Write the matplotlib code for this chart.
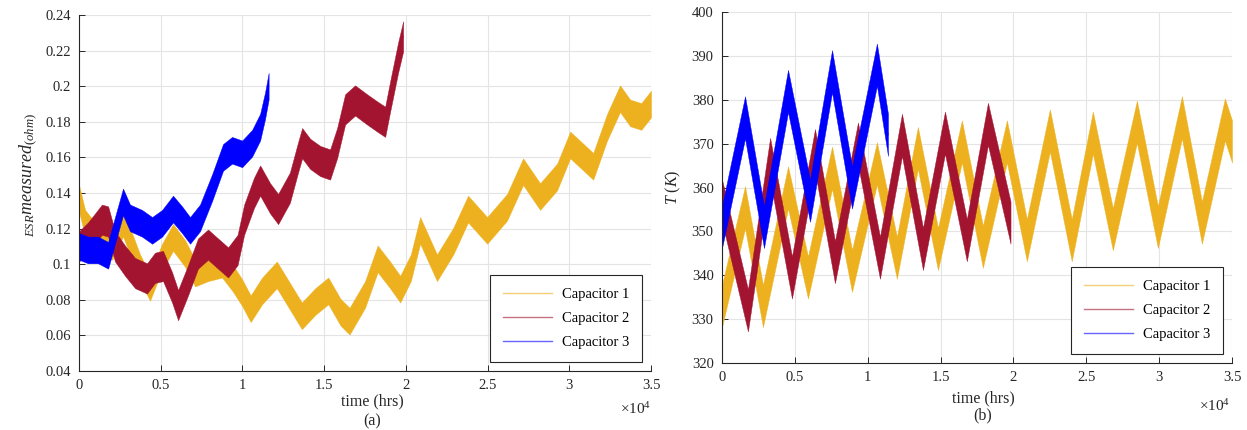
import numpy as np
import matplotlib
matplotlib.use('Agg')
import matplotlib.pyplot as plt
from matplotlib.ticker import FuncFormatter

plt.rcParams['font.family'] = ['Liberation Serif', 'DejaVu Serif']
plt.rcParams['mathtext.fontset'] = 'custom'
plt.rcParams['mathtext.rm'] = 'Liberation Serif'
plt.rcParams['mathtext.it'] = 'Liberation Serif:italic'

# ---- data (time in hours) ----
labels = ['Capacitor 1', 'Capacitor 2', 'Capacitor 3']

# (a) ESR, centre of the noisy band
esr1_t = [0, 370, 800, 1400, 2020, 2690, 3240, 3730, 4340, 5080, 5750, 6490, 7100, 7890,
          8750, 9420, 9980, 10500, 11200, 12100, 12900, 13630, 14450, 15250, 16000, 16550,
          17500, 18270, 19030, 19650, 20300, 20870, 21900, 22900, 23800, 24970, 26190,
          27170, 28210, 29250, 30050, 31460, 32310, 33100, 33720, 34400, 35000]
esr1_v = [0.137, 0.123, 0.118, 0.113, 0.110, 0.123, 0.110, 0.098, 0.087, 0.104, 0.115,
          0.106, 0.095, 0.098, 0.100, 0.092, 0.084, 0.075, 0.085, 0.094, 0.082, 0.071,
          0.079, 0.085, 0.073, 0.068, 0.083, 0.103, 0.094, 0.086, 0.098, 0.119, 0.098,
          0.113, 0.131, 0.119, 0.132, 0.152, 0.138, 0.149, 0.167, 0.155, 0.177, 0.193,
          0.185, 0.183, 0.190]
esr2_t = [0, 550, 1400, 1780, 2200, 2810, 3430, 4160, 4650, 5140, 5690, 6060, 6670, 7280,
          7890, 8500, 9120, 9700, 10100, 10700, 11080, 11690, 12180, 12900, 13400, 13650,
          14140, 14750, 15360, 15790, 16280, 16890, 17620, 18240, 18730, 19030, 19520, 19830]
esr2_v = [0.110, 0.115, 0.125, 0.124, 0.110, 0.102, 0.095, 0.092, 0.098, 0.099, 0.087,
          0.077, 0.091, 0.106, 0.111, 0.106, 0.101, 0.108, 0.125, 0.140, 0.147, 0.137,
          0.131, 0.143, 0.160, 0.168, 0.162, 0.158, 0.156, 0.168, 0.187, 0.192, 0.187,
          0.183, 0.180, 0.194, 0.216, 0.228]
esr3_t = [0, 550, 1160, 1780, 2200, 2690, 3120, 3850, 4470, 5080, 5750, 6300, 6790, 7400,
          8140, 8810, 9360, 9980, 10590, 11080, 11380, 11600]
esr3_v = [0.110, 0.108, 0.108, 0.105, 0.119, 0.135, 0.126, 0.123, 0.119, 0.123, 0.131,
          0.125, 0.119, 0.126, 0.143, 0.160, 0.164, 0.162, 0.168, 0.177, 0.189, 0.200]
esr_noise = [0.0075, 0.0085, 0.0075]

# (b) temperature, peaks and troughs of the band centre
temp1_t = [0, 1580, 2810, 4530, 5900, 7550, 8920, 10630, 12000, 13440, 14820, 16460, 17900,
           19550, 20920, 22500, 24000, 25450, 26820, 28470, 29910, 31560, 32930, 34510, 35000]
temp1_v = [333, 355.5, 333, 360, 339.5, 364.5, 341, 365.5, 344, 369, 346, 370.5, 346.5,
           370.5, 348, 373, 348, 372.5, 350.5, 375, 351, 376, 352, 375.5, 370.5]
temp2_t = [0, 1780, 3300, 4800, 6380, 7750, 9330, 10840, 12350, 13790, 15300, 16800, 18250, 19800]
temp2_v = [357, 332, 366.5, 339.5, 368.5, 343, 370, 344, 372, 346, 372.5, 348, 374.5, 352]
temp3_t = [0, 1580, 2880, 4530, 6040, 7550, 8920, 10630, 11390]
temp3_v = [351, 376, 351, 382, 357, 386.5, 360, 388, 372]
temp_noise = [4.8, 4.8, 4.8]

colors = ['#EDB120', '#A2142F', '#0000FF']

fig = plt.figure(figsize=(12.47, 4.30), dpi=100)
ax1 = fig.add_axes([0.0634, 0.1372, 0.4587, 0.8279])
ax2 = fig.add_axes([0.5790, 0.1558, 0.4090, 0.8163])


def draw(ax, series, noise):
    for (t, v), amp, c, lab in zip(series, noise, colors, labels):
        t = np.array(t)
        v = np.array(v)
        ax.fill_between(t, v - amp, v + amp, color=c, lw=0.3, zorder=2)
        ax.plot(t, v, color=c, lw=0.8, label=lab, zorder=2)


def style(ax, ylim, yticks):
    ax.set_xlim(0, 35000)
    ax.set_ylim(*ylim)
    ax.set_xticks(np.arange(0, 35001, 5000))
    ax.set_yticks(yticks)
    ax.xaxis.set_major_formatter(FuncFormatter(lambda x, p: '%g' % (x / 1e4)))
    ax.yaxis.set_major_formatter(FuncFormatter(lambda y, p: '%g' % round(y, 3)))
    ax.grid(True, color='#e4e4e4', lw=0.8)
    ax.set_axisbelow(True)
    for s in ['top', 'right']:
        ax.spines[s].set_visible(False)
    for s in ['left', 'bottom']:
        ax.spines[s].set_color('#262626')
        ax.spines[s].set_linewidth(0.8)
    ax.tick_params(direction='in', length=4, width=0.7, colors='#262626',
                   labelsize=10.5, pad=6)
    leg = ax.legend(loc='lower right', fontsize=10.5, frameon=True, fancybox=False,
                    edgecolor='#262626', framealpha=1, borderpad=0.9, handlelength=3.3,
                    handletextpad=0.7, labelspacing=0.75, borderaxespad=0.6)
    leg.set_zorder(5)
    leg.get_frame().set_linewidth(0.8)
    for ln in leg.get_lines():
        ln.set_alpha(0.6)
        ln.set_linewidth(1.0)


draw(ax1, [(esr1_t, esr1_v), (esr2_t, esr2_v), (esr3_t, esr3_v)], esr_noise)
style(ax1, (0.04, 0.24), np.arange(0.04, 0.2401, 0.02))
draw(ax2, [(temp1_t, temp1_v), (temp2_t, temp2_v), (temp3_t, temp3_v)], temp_noise)
style(ax2, (320, 400), np.arange(320, 401, 10))


def ftext(x, y, s, **kw):
    fig.text(x / 1247, 1 - y / 430, s, va='center', color='#262626', **kw)


ftext(372, 401, 'time (hrs)', ha='center', fontsize=11.5)
ftext(372, 421, '(a)', ha='center', fontsize=11.5)
ftext(651, 409, r'$\times\mathregular{10}^{4}$', ha='right', fontsize=11)
ftext(28, 175, r'$_{ESR}measured_{(ohm)}$', ha='center', rotation=90, fontsize=13)

ftext(983, 398, 'time (hrs)', ha='center', fontsize=11.5)
ftext(983, 415, '(b)', ha='center', fontsize=11.5)
ftext(1230, 406, r'$\times\mathregular{10}^{4}$', ha='right', fontsize=11)
ftext(673, 187, r'$T\ (K)$', ha='center', rotation=90, fontsize=11.5)

fig.savefig('out.png', dpi=100)
